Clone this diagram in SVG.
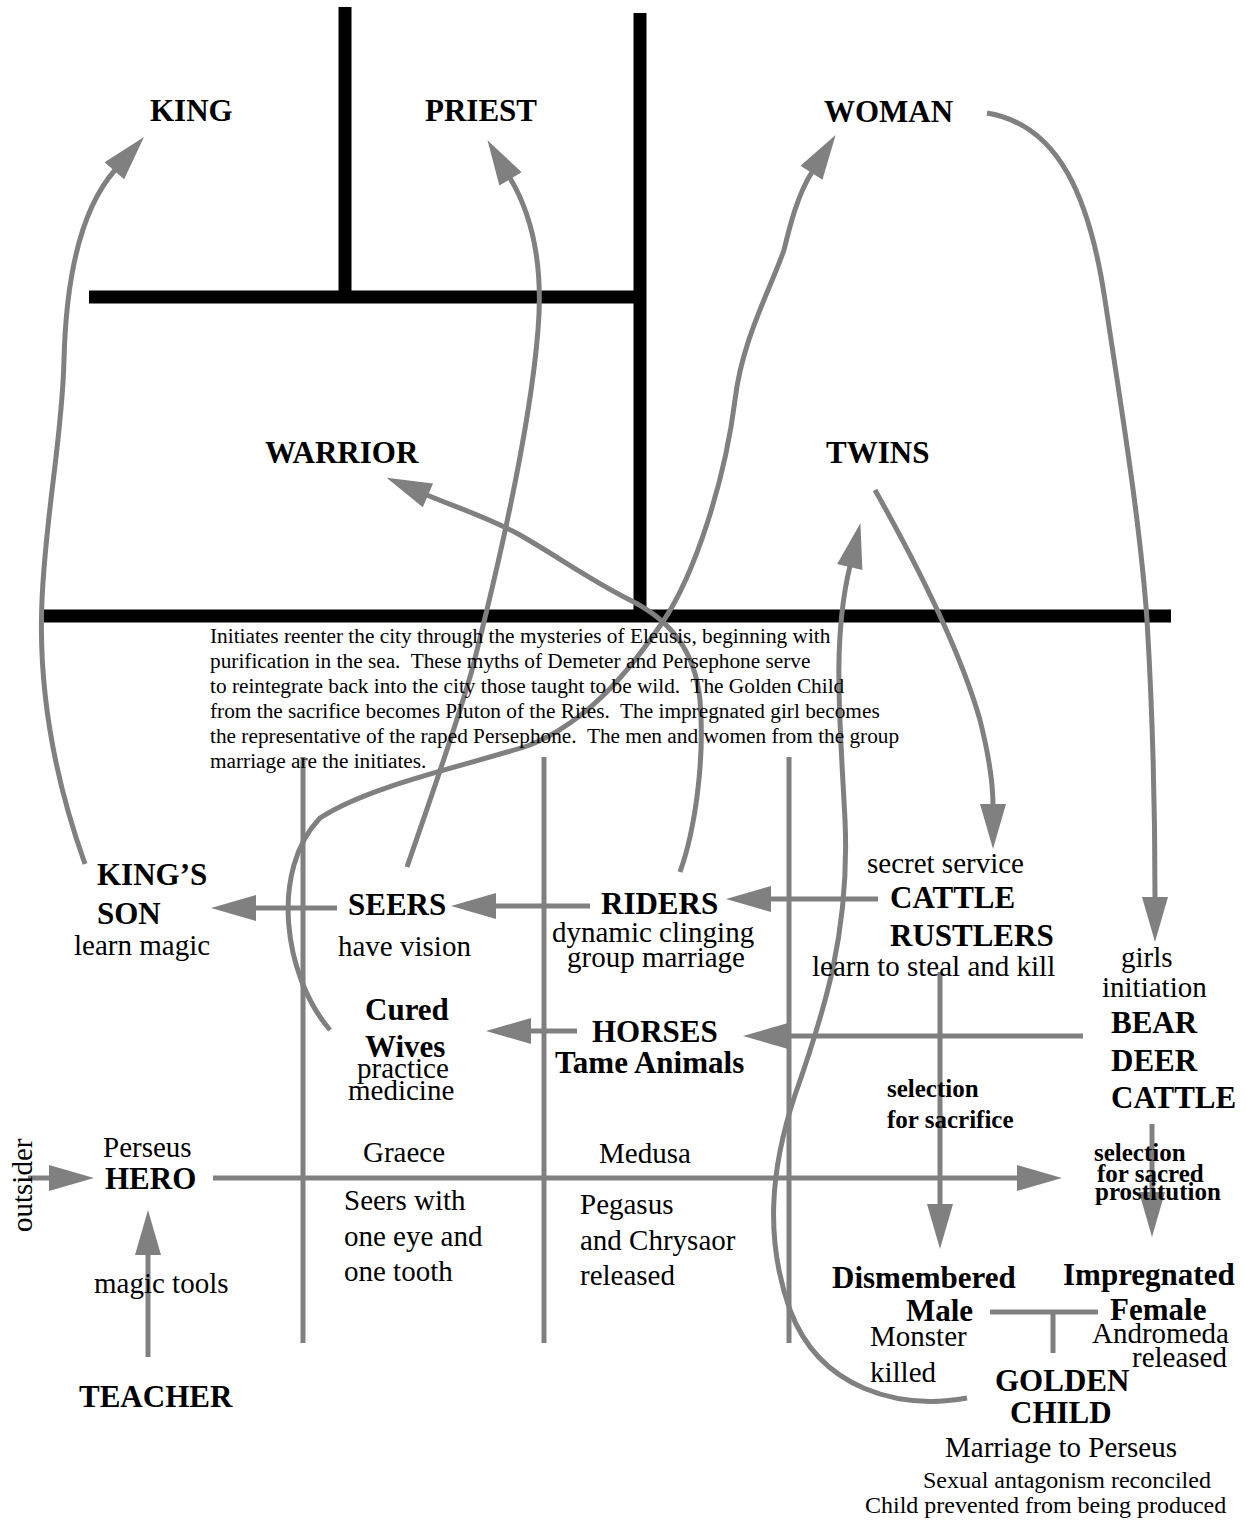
<svg xmlns="http://www.w3.org/2000/svg" width="1246" height="1522" viewBox="0 0 1246 1522">
<style>
text{font-family:"Liberation Serif","Times New Roman",serif;fill:#000}
.b{font-weight:bold;font-size:31px}
.r{font-size:29px}
.s{font-weight:bold;font-size:25px}
.p{font-size:21.3px;white-space:pre}
.sm{font-size:24px}
.blk{stroke:#000;stroke-width:13;fill:none}
.g{stroke:#808080;stroke-width:5;fill:none}
.ga{stroke:#808080;stroke-width:5;fill:none;marker-end:url(#ah)}
</style>
<defs>
<marker id="ah" markerUnits="userSpaceOnUse" markerWidth="46" markerHeight="26" refX="1" refY="13" orient="auto" overflow="visible">
<path d="M0,0 L45,13 L0,26 Z" fill="#808080"/>
</marker>
</defs>
<rect width="1246" height="1522" fill="#fff"/>
<g id="frame">
<path class="blk" d="M345,7 V298"/>
<path class="blk" d="M640,13 V616"/>
<path class="blk" d="M89,297 H640"/>
<path class="blk" d="M44,616 H1171"/>
</g>
<g id="connectors">
<path class="g" d="M303,757 V1343"/>
<path class="g" d="M544,757 V1343"/>
<path class="g" d="M789,757 V1343"/>
<path class="ga" d="M337,908 H255"/>
<path class="ga" d="M590,906 H495"/>
<path class="ga" d="M878,899 H770"/>
<path class="ga" d="M577,1031 H530"/>
<path class="ga" d="M1083,1036 H787"/>
<path class="ga" d="M213,1178 H1018"/>
<path class="ga" d="M28,1178 H50"/>
<path class="ga" d="M148,1357 V1254"/>
<path class="ga" d="M940,972 V1205"/>
<path class="ga" d="M1152,1124 V1193"/>
<path class="g" d="M990,1312 H1098 M1053,1312 V1353"/>
<path class="ga" d="M85,864 C55,780 38,690 42,600 C46,510 62,440 64,360 C66,280 80,210 115,170"/>
<path class="ga" d="M407,867 C430,800 455,730 472,670 C500,560 530,430 538,330 C543,270 535,220 510,178"/>
<path class="ga" d="M330,1030 C283,975 270,870 320,818 C370,785 470,765 530,745 C590,720 630,670 662,623 C695,575 725,480 735,400 C742,340 770,290 784,250 C790,225 798,194 812,172"/>
<path class="ga" d="M680,872 C695,830 705,760 700,700 C695,650 670,620 630,600 C590,580 560,558 520,535 C490,518 455,507 427,495"/>
<path class="ga" d="M967,1398 C900,1410 820,1390 790,1310 C765,1240 770,1170 795,1095 C825,1010 850,930 845,820 C840,720 832,640 850,566"/>
<path class="ga" d="M875,490 C920,570 960,650 980,720 C990,760 993,785 993,805"/>
<path class="ga" d="M987,113 C1060,125 1090,200 1105,300 C1120,400 1140,520 1147,620 C1153,720 1155,820 1155,898"/>
</g>
<g id="king"><text class="b" x="150" y="121">KING</text></g>
<g id="priest"><text class="b" x="425" y="121">PRIEST</text></g>
<g id="woman"><text class="b" x="824" y="122">WOMAN</text></g>
<g id="warrior"><text class="b" x="265" y="463">WARRIOR</text></g>
<g id="twins"><text class="b" x="826" y="463">TWINS</text></g>
<g id="note">
<text class="p" x="210" y="643">Initiates reenter the city through the mysteries of Eleusis, beginning with</text>
<text class="p" x="210" y="668">purification in the sea.  These myths of Demeter and Persephone serve</text>
<text class="p" x="210" y="693">to reintegrate back into the city those taught to be wild.  The Golden Child</text>
<text class="p" x="210" y="718">from the sacrifice becomes Pluton of the Rites.  The impregnated girl becomes</text>
<text class="p" x="210" y="743">the representative of the raped Persephone.  The men and women from the group</text>
<text class="p" x="210" y="768">marriage are the initiates.</text>
</g>
<g id="kings-son">
<text class="b" x="97" y="885">KING’S</text>
<text class="b" x="97" y="924">SON</text>
<text class="r" x="74" y="955">learn magic</text>
</g>
<g id="seers">
<text class="b" x="348" y="915">SEERS</text>
<text class="r" x="338" y="956">have vision</text>
</g>
<g id="riders">
<text class="b" x="601" y="914">RIDERS</text>
<text class="r" x="552" y="942">dynamic clinging</text>
<text class="r" x="567" y="967">group marriage</text>
</g>
<g id="cattle-rustlers">
<text class="r" x="867" y="873">secret service</text>
<text class="b" x="890" y="908">CATTLE</text>
<text class="b" x="890" y="946">RUSTLERS</text>
<text class="r" x="812" y="976">learn to steal and kill</text>
</g>
<g id="bear-deer-cattle">
<text class="r" x="1121" y="967">girls</text>
<text class="r" x="1102" y="997">initiation</text>
<text class="b" x="1111" y="1033">BEAR</text>
<text class="b" x="1111" y="1071">DEER</text>
<text class="b" x="1111" y="1108">CATTLE</text>
</g>
<g id="cured-wives">
<text class="b" x="365" y="1020">Cured</text>
<text class="b" x="365" y="1057">Wives</text>
<text class="r" x="357" y="1078">practice</text>
<text class="r" x="348" y="1100">medicine</text>
</g>
<g id="horses">
<text class="b" x="592" y="1042">HORSES</text>
<text class="b" x="555" y="1073">Tame Animals</text>
</g>
<g id="sel-sacrifice">
<text class="s" x="887" y="1097">selection</text>
<text class="s" x="887" y="1128">for sacrifice</text>
</g>
<g id="sel-prostitution">
<text class="s" x="1094" y="1161">selection</text>
<text class="s" x="1097" y="1182">for sacred</text>
<text class="s" x="1095" y="1200">prostitution</text>
</g>
<g id="hero">
<text class="r" x="103" y="1157">Perseus</text>
<text class="b" x="105" y="1189">HERO</text>
</g>
<g id="outsider"><text class="r" transform="translate(32,1232) rotate(-90)">outsider</text></g>
<g id="graece">
<text class="r" x="363" y="1162">Graece</text>
<text class="r" x="344" y="1210">Seers with</text>
<text class="r" x="344" y="1246">one eye and</text>
<text class="r" x="344" y="1281">one tooth</text>
</g>
<g id="medusa">
<text class="r" x="599" y="1163">Medusa</text>
<text class="r" x="580" y="1214">Pegasus</text>
<text class="r" x="580" y="1250">and Chrysaor</text>
<text class="r" x="580" y="1285">released</text>
</g>
<g id="magic-tools"><text class="r" x="94" y="1293">magic tools</text></g>
<g id="teacher"><text class="b" x="79" y="1407">TEACHER</text></g>
<g id="dismembered-male">
<text class="b" x="832" y="1288">Dismembered</text>
<text class="b" x="906" y="1321">Male</text>
<text class="r" x="870" y="1346">Monster</text>
<text class="r" x="870" y="1382">killed</text>
</g>
<g id="impregnated-female">
<text class="b" x="1063" y="1285">Impregnated</text>
<text class="b" x="1110" y="1320">Female</text>
<text class="r" x="1092" y="1343">Andromeda</text>
<text class="r" x="1227" y="1367" text-anchor="end">released</text>
</g>
<g id="golden-child">
<text class="b" x="995" y="1391">GOLDEN</text>
<text class="b" x="1010" y="1423">CHILD</text>
<text class="r" x="945" y="1457">Marriage to Perseus</text>
<text class="sm" x="923" y="1488">Sexual antagonism reconciled</text>
<text class="sm" x="865" y="1513">Child prevented from being produced</text>
</g>
</svg>
